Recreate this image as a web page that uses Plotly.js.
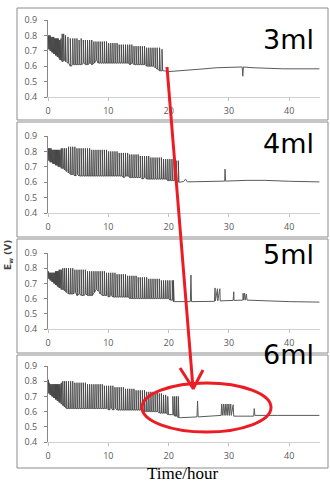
<!DOCTYPE html>
<html>
<head>
<meta charset="utf-8">
<script src="https://cdn.plot.ly/plotly-3.0.1.min.js"></script>
<style>html,body{margin:0;padding:0;background:#fff;}#chart{width:330px;height:481px;}</style>
</head>
<body>
<div id="chart"></div>
<script>
// ---------- DATA ----------
const panelLabels = ["3ml", "4ml", "5ml", "6ml"];
const xTickVals = [0, 10, 20, 30, 40];
const yTickVals = [0.4, 0.5, 0.6, 0.7, 0.8, 0.9];

// 3 ml : spike times, spike peaks, baseline before each spike, then the quiet tail
const spikeT3 = [0.05,0.2,0.35,0.5,0.65,0.8,0.95,1.1,1.25,1.4,1.55,1.7,1.85,2.0,2.15,2.35,2.6,2.9,3.3,3.7,4.1,4.45,4.8,5.15,5.5,5.85,6.2,6.55,6.9,7.25,7.6,7.95,8.3,8.65,9.0,9.35,9.7,10.05,10.4,10.75,11.1,11.45,11.8,12.15,12.5,12.85,13.2,13.55,13.9,14.25,14.6,14.95,15.3,15.65,16.0,16.35,16.7,17.05,17.4,17.75,18.1,18.5,18.9];
const spikePeak3 = [.80,.80,.80,.79,.79,.79,.79,.78,.78,.78,.78,.78,.77,.77,.78,.81,.81,.80,.79,.78,.78,.78,.78,.77,.78,.77,.77,.77,.77,.77,.76,.76,.76,.76,.76,.76,.76,.75,.75,.75,.75,.75,.74,.74,.74,.74,.74,.74,.74,.73,.73,.73,.73,.73,.73,.72,.72,.72,.72,.72,.72,.72,.71];
const spikeBase3 = [.71,.71,.70,.70,.69,.69,.68,.68,.67,.67,.66,.66,.65,.64,.64,.63,.64,.63,.62,.60,.61,.61,.61,.61,.61,.62,.61,.61,.62,.61,.62,.64,.62,.62,.62,.62,.62,.62,.62,.62,.62,.62,.62,.62,.62,.62,.62,.61,.62,.61,.61,.61,.61,.61,.61,.60,.60,.60,.60,.59,.58,.57,.57];
const tailT3 = [19.3,20,22,25,28,31,32.2,32.3,32.4,34,38,39,45];
const tailV3 = [.57,.565,.57,.58,.59,.595,.595,.535,.595,.59,.585,.583,.583];

// 4 ml
const spikeT4 = [0.05,0.2,0.35,0.5,0.65,0.8,0.95,1.1,1.25,1.4,1.55,1.7,1.85,2.0,2.2,2.45,2.75,3.05,3.4,3.75,4.1,4.45,4.8,5.15,5.5,5.85,6.2,6.55,6.9,7.25,7.6,7.95,8.3,8.65,9.0,9.35,9.7,10.05,10.4,10.75,11.1,11.45,11.8,12.15,12.5,12.85,13.2,13.55,13.9,14.25,14.6,14.95,15.3,15.65,16.0,16.35,16.7,17.05,17.4,17.75,18.1,18.45,18.8,19.15,19.5,19.85,20.2,20.55,20.9,21.25,21.6];
const spikePeak4 = [.82,.82,.82,.82,.81,.81,.81,.81,.81,.81,.81,.81,.81,.81,.82,.82,.82,.82,.83,.83,.83,.83,.82,.82,.82,.82,.82,.82,.82,.81,.81,.81,.81,.81,.81,.81,.81,.80,.80,.80,.80,.80,.79,.79,.79,.79,.79,.78,.78,.78,.78,.78,.77,.77,.77,.77,.77,.76,.76,.76,.76,.76,.76,.75,.75,.75,.75,.75,.74,.74,.74];
const spikeBase4 = [.74,.74,.73,.73,.73,.72,.72,.72,.71,.71,.71,.70,.70,.70,.69,.69,.68,.67,.66,.65,.65,.64,.65,.64,.64,.64,.64,.64,.64,.64,.64,.64,.64,.64,.64,.64,.64,.64,.64,.64,.64,.64,.64,.64,.63,.64,.64,.63,.63,.63,.63,.63,.63,.62,.63,.62,.62,.62,.62,.62,.62,.62,.62,.62,.62,.61,.61,.61,.61,.60,.60];
const tailT4 = [21.9,22.5,22.8,23.1,25,29.3,29.35,29.45,33,36,40,45];
const tailV4 = [.60,.605,.62,.602,.603,.607,.685,.607,.612,.612,.606,.602];

// 5 ml
const spikeT5 = [0.05,0.2,0.35,0.5,0.65,0.8,0.95,1.1,1.25,1.4,1.55,1.7,1.85,2.0,2.2,2.45,2.75,3.05,3.4,3.75,4.1,4.45,4.8,5.15,5.5,5.85,6.2,6.55,6.9,7.25,7.6,7.95,8.3,8.65,9.0,9.35,9.7,10.05,10.4,10.75,11.1,11.45,11.8,12.15,12.5,12.85,13.2,13.55,13.9,14.25,14.6,14.95,15.3,15.65,16.0,16.35,16.7,17.05,17.4,17.75,18.1,18.45,18.8,19.15,19.5,19.85,20.2,20.6,20.8];
const spikePeak5 = [.78,.77,.77,.77,.77,.77,.77,.77,.78,.78,.78,.78,.79,.79,.79,.80,.80,.80,.80,.80,.80,.79,.79,.79,.79,.79,.79,.78,.78,.78,.78,.78,.78,.78,.78,.78,.77,.77,.77,.77,.77,.76,.76,.76,.76,.76,.75,.75,.75,.75,.75,.74,.74,.74,.74,.74,.73,.73,.73,.73,.73,.73,.72,.72,.72,.72,.72,.72,.72];
const spikeBase5 = [.73,.73,.72,.72,.71,.71,.70,.70,.69,.69,.68,.68,.67,.67,.66,.66,.65,.64,.63,.63,.63,.64,.62,.63,.62,.62,.63,.62,.62,.62,.64,.66,.65,.63,.62,.62,.62,.61,.62,.61,.61,.61,.61,.61,.61,.61,.61,.60,.60,.60,.60,.60,.60,.60,.60,.60,.60,.60,.60,.60,.60,.60,.60,.60,.60,.60,.59,.59,.58];
const tailT5 = [21.0,23.6,23.7,23.8,27.6,27.7,27.75,28.1,28.15,28.5,28.55,30.7,30.8,30.85,32.3,32.35,32.45,32.6,32.7,32.9,33,36,40,45];
const tailV5 = [.58,.58,.755,.58,.582,.67,.585,.665,.585,.665,.585,.588,.645,.588,.59,.635,.59,.635,.59,.63,.59,.585,.58,.577];

// 6 ml
const spikeT6 = [0.05,0.2,0.35,0.5,0.65,0.8,0.95,1.1,1.25,1.4,1.55,1.7,1.85,2.0,2.2,2.45,2.75,3.05,3.4,3.75,4.1,4.45,4.8,5.15,5.5,5.85,6.2,6.55,6.9,7.25,7.6,7.95,8.3,8.65,9.0,9.35,9.7,10.05,10.4,10.75,11.1,11.45,11.8,12.15,12.5,12.85,13.2,13.55,13.9,14.25,14.6,14.95,15.3,15.65,16.0,16.35,16.7,17.05,17.4,17.75,18.1,18.45,18.8,19.15,19.5,19.85,20.7,21.0,21.3,21.6];
const spikePeak6 = [.81,.79,.78,.78,.78,.78,.78,.78,.78,.78,.78,.78,.78,.78,.79,.80,.80,.80,.80,.80,.80,.79,.79,.79,.79,.79,.79,.78,.78,.78,.78,.78,.78,.78,.78,.77,.77,.77,.77,.77,.76,.76,.76,.76,.76,.75,.75,.75,.75,.75,.74,.74,.74,.74,.74,.73,.73,.73,.73,.73,.73,.72,.72,.71,.71,.70,.70,.70,.70,.70];
const spikeBase6 = [.72,.72,.71,.71,.70,.70,.69,.69,.68,.68,.67,.67,.66,.66,.65,.64,.63,.62,.62,.62,.62,.62,.62,.62,.62,.62,.62,.62,.62,.62,.62,.62,.62,.62,.62,.62,.62,.61,.62,.61,.62,.61,.61,.61,.61,.61,.61,.61,.61,.61,.61,.61,.61,.60,.60,.60,.60,.60,.60,.60,.60,.59,.59,.59,.59,.58,.58,.57,.57,.56];
const tailT6 = [22,24.7,24.8,24.9,26.5,27.5,28.7,28.8,28.9,29.1,29.2,29.4,29.5,29.7,29.8,30.0,30.1,30.3,30.4,30.7,30.8,31.5,34.1,34.2,34.3,38,45];
const tailV6 = [.56,.565,.67,.565,.57,.573,.575,.65,.575,.65,.575,.65,.575,.65,.575,.65,.575,.65,.575,.645,.57,.57,.57,.62,.575,.575,.575];

// ---------- BUILD ----------
const W = 330, H = 481;
const px = v => v / W;
const py = v => 1 - v / H;
const DECAY = 0.12; // visual width of each spike's fall, hours

const panels = [
  {t: spikeT3, pk: spikePeak3, bs: spikeBase3, tt: tailT3, tv: tailV3, top: 20, bot: 97, box: [8, 120], lab: 36},
  {t: spikeT4, pk: spikePeak4, bs: spikeBase4, tt: tailT4, tv: tailV4, top: 136, bot: 213, box: [122, 237], lab: 140},
  {t: spikeT5, pk: spikePeak5, bs: spikeBase5, tt: tailT5, tv: tailV5, top: 253, bot: 329, box: [239, 353], lab: 251},
  {t: spikeT6, pk: spikePeak6, bs: spikeBase6, tt: tailT6, tv: tailV6, top: 366, bot: 442, box: [355, 468], lab: 351}
];

const traces = [];
const layout = {
  width: W, height: H, autosize: false,
  margin: {l: 0, r: 0, t: 0, b: 0},
  paper_bgcolor: '#fff', plot_bgcolor: 'rgba(0,0,0,0)',
  showlegend: false,
  shapes: [], annotations: []
};
const tickFont = {family: 'Open Sans, Liberation Sans, sans-serif', size: 9, color: '#595959'};

panels.forEach((p, i) => {
  const xs = [], ys = [];
  p.t.forEach((t, k) => { xs.push(t, t, t + DECAY); ys.push(p.bs[k], p.pk[k], p.bs[k]); });
  const n = i === 0 ? '' : String(i + 1);
  traces.push({
    x: xs, y: ys, type: 'scatter', mode: 'lines',
    xaxis: 'x' + n, yaxis: 'y' + n,
    line: {color: '#444444', width: 0.9}, hoverinfo: 'skip'
  });
  const last = p.t.length - 1;
  traces.push({
    x: [p.t[last] + DECAY].concat(p.tt), y: [p.bs[last]].concat(p.tv),
    type: 'scatter', mode: 'lines', xaxis: 'x' + n, yaxis: 'y' + n,
    line: {color: '#5a5a5a', width: 1}, hoverinfo: 'skip'
  });
  layout['xaxis' + n] = {
    domain: [px(48), px(320)], range: [0, 45.1], anchor: 'y' + n,
    tickvals: xTickVals, ticks: 'outside', ticklen: 3, tickcolor: '#bfbfbf',
    showline: true, linecolor: '#d0d0d0', linewidth: 1,
    showgrid: false, zeroline: false, tickfont: tickFont, ticklabelstandoff: 2
  };
  layout['yaxis' + n] = {
    domain: [py(p.bot), py(p.top)], range: [0.4, 0.9], anchor: 'x' + n,
    tickvals: yTickVals, tickformat: '.1f', ticks: 'outside', ticklen: 3, tickcolor: '#868686',
    showline: true, linecolor: '#868686', linewidth: 1,
    showgrid: false, zeroline: false, tickfont: tickFont, ticklabelstandoff: 5
  };
  layout.shapes.push({
    type: 'rect', xref: 'paper', yref: 'paper',
    x0: px(17), x1: px(328), y0: py(p.box[1]), y1: py(p.box[0]),
    line: {color: '#8c8c8c', width: 1}, fillcolor: 'rgba(0,0,0,0)', layer: 'below'
  });
  layout.annotations.push({
    text: panelLabels[i], xref: 'paper', yref: 'paper',
    x: px(288), y: py(p.lab + 3), xanchor: 'center', yanchor: 'middle', showarrow: false,
    font: {family: 'DejaVu Sans, sans-serif', size: 27, color: '#000'}
  });
});

// y title and x title
layout.annotations.push({
  text: 'E<sub>w</sub> (V)', xref: 'paper', yref: 'paper', x: px(8), y: py(255),
  xanchor: 'center', yanchor: 'middle', textangle: -90, showarrow: false,
  font: {family: 'DejaVu Sans, sans-serif', size: 9, color: '#444', weight: 'bold'}
});
layout.annotations.push({
  text: 'Time/hour', xref: 'paper', yref: 'paper', x: px(183), y: py(473),
  xanchor: 'center', yanchor: 'middle', showarrow: false,
  font: {family: 'Liberation Serif, serif', size: 17, color: '#000'}
});

// red arrow and ellipse
const red = 'rgb(236,28,36)';
const redLine = (x0, y0, x1, y1) => ({type: 'line', xref: 'paper', yref: 'paper',
  x0: px(x0), y0: py(y0), x1: px(x1), y1: py(y1), line: {color: red, width: 3}});
layout.shapes.push(redLine(167, 67, 193, 388));
layout.shapes.push(redLine(180, 368, 193.5, 389));
layout.shapes.push(redLine(203, 370, 193, 389));
layout.shapes.push({type: 'circle', xref: 'paper', yref: 'paper',
  x0: px(142), x1: px(271), y0: py(432), y1: py(383),
  line: {color: red, width: 3}, fillcolor: 'rgba(0,0,0,0)'});

Plotly.newPlot('chart', traces, layout, {displayModeBar: false, staticPlot: true});
</script>
</body>
</html>
